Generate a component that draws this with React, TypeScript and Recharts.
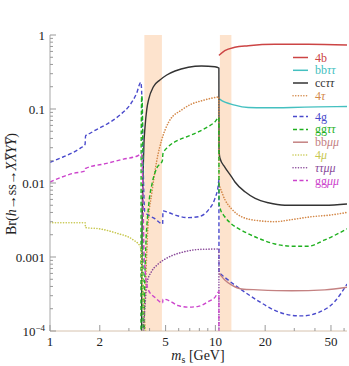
import { LineChart, Line, XAxis, YAxis, ReferenceArea, Legend } from "recharts";

type Pt = [number, number];

// zone d'incertezza (m_s in GeV)
const bandLow: Pt = [3.72, 4.75];
const bandHigh: Pt = [10.65, 12.5];

// tick
const xTicks = [1, 2, 3, 4, 5, 6, 7, 8, 9, 10, 20, 30, 40, 50, 60];
const xMajor = [1, 2, 5, 10, 20, 50];
const yDecades = [1e-4, 1e-3, 1e-2, 1e-1];

// Br(h -> ss -> XX YY), coppie [m_s, Br]
const br4b: Pt[] = [
  [10.52, 0.53], [10.66, 0.545], [11.4, 0.614], [13.1, 0.682], [15.8, 0.717],
  [22.9, 0.749], [36.5, 0.749], [62.5, 0.733],
];
const brbbtt: Pt[] = [
  [10.52, 0.14], [10.66, 0.135], [13.1, 0.113], [15.8, 0.105], [19.9, 0.104],
  [28.9, 0.105], [41.8, 0.107], [62.5, 0.108],
];
const brcctt: Pt[] = [
  [3.555, 1e-6], [3.6, 0.002], [3.65, 0.012], [3.7, 0.035], [3.75, 0.055],
  [3.85, 0.1], [3.95, 0.135], [4.22, 0.2], [4.62, 0.246], [5.08, 0.288],
  [5.7, 0.326], [6.86, 0.366], [8.24, 0.381], [9.94, 0.373], [10.5, 0.358],
  [10.52, 0.028], [10.66, 0.0216], [11.4, 0.0164], [12.5, 0.0122], [13.1, 0.0104],
  [15.1, 0.0076], [17.4, 0.0062], [20.9, 0.0054], [26.3, 0.005], [36.4, 0.005],
  [45.9, 0.005], [62.5, 0.0052],
];
const br4t: Pt[] = [
  [3.56, 1e-6], [3.62, 3e-5], [3.7, 0.00015], [3.77, 0.00035], [3.85, 0.0012],
  [3.91, 0.0026], [4.13, 0.0074], [4.43, 0.0205], [4.73, 0.038], [5.25, 0.068],
  [6.25, 0.097], [7.19, 0.117], [8.25, 0.129], [9.49, 0.14], [10.5, 0.145],
  [10.52, 0.0095], [10.66, 0.0088], [11.4, 0.006], [12.5, 0.0045], [14.4, 0.0035],
  [18.1, 0.0031], [22.9, 0.003], [28.9, 0.0032], [38, 0.0035], [50, 0.0037],
  [62.5, 0.004],
];
const br4g: Pt[] = [
  [1, 0.019], [1.15, 0.0216], [1.32, 0.0247], [1.52, 0.0294], [1.63, 0.0332],
  [1.64, 0.0433], [1.75, 0.047], [1.83, 0.05], [2.2, 0.0622], [2.65, 0.083],
  [3.04, 0.113], [3.34, 0.163], [3.54, 0.229], [3.57, 0.2], [3.61, 0.09],
  [3.65, 0.025], [3.69, 0.008], [3.74, 0.0041], [4.3, 0.0033], [4.8, 0.0028],
  [4.82, 0.0042], [5.19, 0.004], [5.97, 0.00358], [6.86, 0.0034], [7.88, 0.0035],
  [9.06, 0.0043], [9.94, 0.0062], [10.4, 0.0092], [10.5, 0.011], [10.52, 0.00062],
  [10.66, 0.0006], [11.4, 0.00053], [14.4, 0.00036], [18.1, 0.000256], [22.9, 0.00019],
  [28.9, 0.000163], [33.5, 0.00016], [41.8, 0.000177], [52.7, 0.00025], [62.5, 0.00043],
];
const brggtt: Pt[] = [
  [3.545, 1e-6], [3.56, 0.04], [3.585, 0.15], [3.61, 0.13], [3.64, 0.03],
  [3.665, 1e-6], [3.7, 1e-6], [3.73, 0.0003], [3.77, 0.0009], [3.95, 0.005],
  [4.13, 0.0095], [4.43, 0.016], [4.78, 0.02], [4.82, 0.025], [5.2, 0.031],
  [5.97, 0.038], [6.86, 0.043], [7.88, 0.049], [9.06, 0.058], [9.94, 0.067],
  [10.5, 0.077], [10.52, 0.0052], [10.66, 0.0046], [11.4, 0.0035], [12.5, 0.0028],
  [14.4, 0.0023], [18.1, 0.0018], [22.9, 0.0015], [28.9, 0.0014], [36.4, 0.0014],
  [45.9, 0.0017], [62.5, 0.0024],
];
const brbbmm: Pt[] = [
  [10.52, 0.0006], [10.66, 0.00058], [11.4, 0.00049], [12.5, 0.00042], [14.4, 0.00037],
  [18.1, 0.00036], [28.9, 0.00035], [45.9, 0.00036], [62.5, 0.00039],
];
const br4m: Pt[] = [
  [1, 0.0029], [1.63, 0.0029], [1.64, 0.0025], [2.0, 0.0024], [2.53, 0.0021],
  [3.19, 0.0017], [3.5, 0.0014], [3.55, 0.0013], [3.6, 0.0006], [3.68, 0.0002],
  [3.77, 0.00011], [3.9, 0.00005],
];
const brttmm: Pt[] = [
  [3.6, 1e-6], [3.69, 0.0001], [3.77, 0.00025], [3.86, 0.00045], [4.1, 0.00063],
  [4.5, 0.0008], [5.2, 0.00099], [6.5, 0.00118], [8.25, 0.00127], [10.5, 0.00128],
  [10.52, 1e-6],
];
const brggmm: Pt[] = [
  [1, 0.0103], [1.38, 0.0135], [1.63, 0.0145], [1.64, 0.0157], [2.2, 0.0184],
  [2.78, 0.021], [3.34, 0.023], [3.58, 0.0246], [3.62, 0.015], [3.66, 0.005],
  [3.7, 0.0012], [3.77, 0.00061], [3.93, 0.00036], [4.3, 0.000285], [4.8, 0.00024],
  [4.82, 0.00027], [5.19, 0.00026], [5.97, 0.00022], [6.86, 0.00021], [7.88, 0.000215],
  [9.06, 0.00025], [9.94, 0.000285], [10.5, 0.00034], [10.52, 1e-6],
];

const DASH = "4 2.5";
const DOT = "0.1 2.6";
const FONT = "'Liberation Serif', 'DejaVu Serif', serif";
const TICK = "#999";

// [testo, corsivo]
type Part = [string, boolean];
interface Serie {
  name: string;
  pts: Pt[];
  color: string;
  dash?: string;
  label: Part[];
}

const serie: Serie[] = [
  { name: "4b", pts: br4b, color: "#cc4444", label: [["4b", false]] },
  { name: "bbtt", pts: brbbtt, color: "#44c0c0", label: [["bb", false], ["ττ", true]] },
  { name: "cctt", pts: brcctt, color: "#333333", label: [["cc", false], ["ττ", true]] },
  { name: "4t", pts: br4t, color: "#d4894a", dash: DOT, label: [["4", false], ["τ", true]] },
  { name: "4g", pts: br4g, color: "#4a4acc", dash: DASH, label: [["4g", false]] },
  { name: "ggtt", pts: brggtt, color: "#1fb01f", dash: DASH, label: [["gg", false], ["ττ", true]] },
  { name: "bbmm", pts: brbbmm, color: "#c48282", label: [["bb", false], ["μμ", true]] },
  { name: "4m", pts: br4m, color: "#c8c850", dash: DOT, label: [["4", false], ["μ", true]] },
  { name: "ttmm", pts: brttmm, color: "#8a4a9a", dash: DOT, label: [["ττμμ", true]] },
  { name: "ggmm", pts: brggmm, color: "#cc44cc", dash: DASH, label: [["gg", false], ["μμ", true]] },
];

const yTicks: number[] = [];
yDecades.forEach((d) => {
  for (let k = 1; k <= 9; k++) yTicks.push(d * k);
});
yTicks.push(1);

const isDecade = (v: number) => {
  const l = Math.log10(v);
  return Math.abs(l - Math.round(l)) < 1e-6;
};

const BottomTick = ({ x, y, payload }: any) => {
  const major = xMajor.includes(payload.value);
  return (
    <g>
      <line x1={x} x2={x} y1={y} y2={y - (major ? 6 : 3)} stroke={TICK} />
      {major && (
        <text x={x} y={y + 15} textAnchor="middle" fontSize={13} fontFamily={FONT} fill="#222">
          {payload.value}
        </text>
      )}
    </g>
  );
};

const TopTick = ({ x, y, payload }: any) => {
  const major = xMajor.includes(payload.value);
  return <line x1={x} x2={x} y1={y} y2={y + (major ? 6 : 3)} stroke={TICK} />;
};

const LeftTick = ({ x, y, payload }: any) => {
  const v = payload.value;
  const major = isDecade(v);
  const e = Math.round(Math.log10(v));
  return (
    <g>
      <line x1={x} x2={x + (major ? 6 : 3)} y1={y} y2={y} stroke={TICK} />
      {major &&
        (e >= -3 ? (
          <text x={x - 5} y={y + 4.5} textAnchor="end" fontSize={13} fontFamily={FONT} fill="#222">
            {e === 0 ? "1" : v.toFixed(-e)}
          </text>
        ) : (
          <text x={x - 5} y={y + 4.5} textAnchor="end" fontSize={13} fontFamily={FONT} fill="#222">
            10
            <tspan fontSize={9} dy={-5}>
              {"\u2212" + -e}
            </tspan>
          </text>
        ))}
    </g>
  );
};

const RightTick = ({ x, y, payload }: any) => {
  const major = isDecade(payload.value);
  return <line x1={x} x2={x - (major ? 6 : 3)} y1={y} y2={y} stroke={TICK} />;
};

const YTitle = () => (
  <text transform="translate(16,184) rotate(-90)" textAnchor="middle" fontSize={14} fontFamily={FONT} fill="#222">
    Br(<tspan fontStyle="italic">h</tspan>→ss→
    <tspan fontStyle="italic">{"XX\u0305YY\u0305"}</tspan>)
  </text>
);

const XTitle = () => (
  <text x={198} y={360} textAnchor="middle" fontSize={14} fontFamily={FONT} fill="#222">
    <tspan fontStyle="italic">m</tspan>
    <tspan fontSize={10} dy={3}>s</tspan>
    <tspan dy={-3}> [GeV]</tspan>
  </text>
);

const Legenda = () => {
  const righe = [57.5, 70.3, 83, 95.8, 116.6, 129.4, 142.2, 155, 167.8, 180.6];
  return (
    <svg width={60} height={140} style={{ overflow: "visible" }}>
      {serie.map((s, i) => {
        const yy = righe[i] - 48;
        return (
          <g key={s.name}>
            <line
              x1={5}
              x2={20}
              y1={yy}
              y2={yy}
              stroke={s.color}
              strokeWidth={1.5}
              strokeDasharray={s.dash}
              strokeLinecap={s.dash === DOT ? "round" : "butt"}
            />
            <text x={27} y={yy + 4} fontSize={12} fontFamily={FONT} fill={s.color}>
              {s.label.map(([t, it], j) => (
                <tspan key={j} fontStyle={it ? "italic" : "normal"}>
                  {t}
                </tspan>
              ))}
            </text>
          </g>
        );
      })}
    </svg>
  );
};

export default function App() {
  return (
    <div style={{ position: "absolute", left: 0, top: 0, width: 349, height: 366, background: "#fff" }}>
      <LineChart width={349} height={366} margin={{ top: 35, right: 2, left: 0, bottom: 0 }}>
        <XAxis
          xAxisId={0}
          dataKey="m"
          type="number"
          scale="log"
          domain={[1, 62.5]}
          allowDataOverflow
          ticks={xTicks}
          interval={0}
          tickSize={0}
          tickMargin={0}
          tickLine={false}
          tick={<BottomTick />}
          axisLine={{ stroke: "#d6c2ae" }}
          height={35}
          label={<XTitle />}
        />
        <XAxis
          xAxisId="top"
          orientation="top"
          type="number"
          scale="log"
          domain={[1, 62.5]}
          allowDataOverflow
          ticks={xTicks}
          interval={0}
          tickSize={0}
          tickMargin={0}
          tickLine={false}
          tick={<TopTick />}
          axisLine={{ stroke: "#d6c2ae" }}
          height={0}
        />
        <YAxis
          yAxisId={0}
          type="number"
          scale="log"
          domain={[1e-4, 1]}
          allowDataOverflow
          ticks={yTicks}
          interval={0}
          tickSize={0}
          tickMargin={0}
          tickLine={false}
          tick={<LeftTick />}
          axisLine={{ stroke: "#a8a8a8" }}
          width={50}
          label={<YTitle />}
        />
        <YAxis
          yAxisId="right"
          orientation="right"
          type="number"
          scale="log"
          domain={[1e-4, 1]}
          allowDataOverflow
          ticks={yTicks}
          interval={0}
          tickSize={0}
          tickMargin={0}
          tickLine={false}
          tick={<RightTick />}
          axisLine={{ stroke: "#a8a8a8" }}
          width={0}
        />
        <ReferenceArea x1={bandLow[0]} x2={bandLow[1]} fill="#fde3cd" fillOpacity={1} stroke="none" />
        <ReferenceArea x1={bandHigh[0]} x2={bandHigh[1]} fill="#fde3cd" fillOpacity={1} stroke="none" />
        {serie.map((s) => (
          <Line
            key={s.name}
            data={s.pts.map(([m, br]) => ({ m, br }))}
            dataKey="br"
            type="monotone"
            stroke={s.color}
            strokeWidth={s.dash === DOT ? 1.6 : 1.4}
            strokeDasharray={s.dash}
            strokeLinecap={s.dash === DOT ? "round" : "butt"}
            dot={false}
            activeDot={false}
            isAnimationActive={false}
          />
        ))}
        <Legend
          layout="vertical"
          align="center"
          verticalAlign="middle"
          wrapperStyle={{ position: "absolute", left: 288, top: 48, width: 60 }}
          content={() => <Legenda />}
        />
      </LineChart>
    </div>
  );
}
